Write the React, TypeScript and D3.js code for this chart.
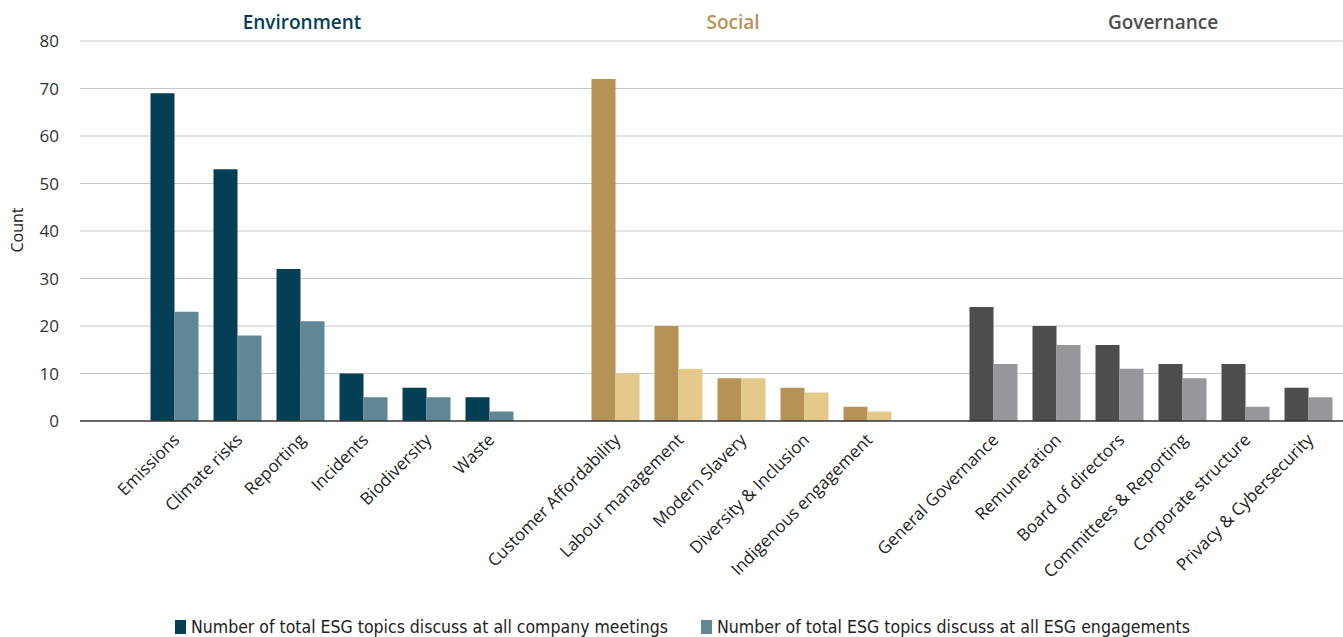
import React, { useEffect, useRef } from 'react';
import * as d3 from 'd3';

// slot names; blank entries are empty gaps between the groups
const categories = [
  '', 'Emissions', 'Climate risks', 'Reporting', 'Incidents', 'Biodiversity', 'Waste',
  ' ', 'Customer Affordability', 'Labour management', 'Modern Slavery', 'Diversity & Inclusion', 'Indigenous engagement',
  '  ', 'General Governance', 'Remuneration', 'Board of directors', 'Committees & Reporting', 'Corporate structure', 'Privacy & Cybersecurity',
];

const envTopics = ['Emissions', 'Climate risks', 'Reporting', 'Incidents', 'Biodiversity', 'Waste'];
const envMeetings = [69, 53, 32, 10, 7, 5];
const envEngagements = [23, 18, 21, 5, 5, 2];

const socTopics = ['Customer Affordability', 'Labour management', 'Modern Slavery', 'Diversity & Inclusion', 'Indigenous engagement'];
const socMeetings = [72, 20, 9, 7, 3];
const socEngagements = [10, 11, 9, 6, 2];

const govTopics = ['General Governance', 'Remuneration', 'Board of directors', 'Committees & Reporting', 'Corporate structure', 'Privacy & Cybersecurity'];
const govMeetings = [24, 20, 16, 12, 12, 7];
const govEngagements = [12, 16, 11, 9, 3, 5];

const yTicks = [0, 10, 20, 30, 40, 50, 60, 70, 80];
const legendLabels = [
  'Number of total ESG topics discuss at all company meetings',
  'Number of total ESG topics discuss at all ESG engagements',
];

const groups = [
  { title: 'Environment', titleX: 302, topics: envTopics, a: envMeetings, b: envEngagements, dark: '#043f55', light: '#5f8796' },
  { title: 'Social', titleX: 733, topics: socTopics, a: socMeetings, b: socEngagements, dark: '#b79257', light: '#e4c98a' },
  { title: 'Governance', titleX: 1163, topics: govTopics, a: govMeetings, b: govEngagements, dark: '#4d4d4d', light: '#97979b' },
];

const W = 1343;
const H = 637;
const font = "'Open Sans', 'Noto Sans', sans-serif";

export default function App() {
  const svgRef = useRef<SVGSVGElement>(null);

  useEffect(() => {
    document.body.style.margin = '0';
    document.body.style.overflow = 'hidden';
    const svg = d3.select(svgRef.current);
    svg.selectAll('*').remove();

    const x = d3.scaleBand().domain(categories).range([80, 1340]).paddingInner(0).paddingOuter(0);
    const y = d3.scaleLinear().domain([0, 80]).range([421, 41]);
    const inner = d3.scaleBand().domain(['a', 'b']).range([0, 48]);
    const pad = (x.bandwidth() - 48) / 2;

    // grid
    svg.append('g')
      .selectAll('line')
      .data(yTicks.filter(t => t > 0))
      .join('line')
      .attr('x1', 80).attr('x2', W)
      .attr('y1', d => y(d)).attr('y2', d => y(d))
      .attr('stroke', '#c8c8c8').attr('stroke-width', 1.2);

    svg.append('g')
      .selectAll('text')
      .data(yTicks)
      .join('text')
      .attr('x', 59).attr('y', d => y(d))
      .attr('dy', '0.36em')
      .attr('text-anchor', 'end')
      .attr('font-family', font).attr('font-size', 17).attr('fill', '#333')
      .text(d => d);

    svg.append('text')
      .attr('transform', 'translate(23,230) rotate(-90)')
      .attr('text-anchor', 'middle')
      .attr('font-family', font).attr('font-size', 16).attr('fill', '#222')
      .text('Count');

    groups.forEach(g => {
      const rows = g.topics.map((t, i) => ({ t, a: g.a[i], b: g.b[i] }));
      const gg = svg.append('g');
      gg.selectAll('rect.a')
        .data(rows)
        .join('rect')
        .attr('x', d => (x(d.t) || 0) + pad + (inner('a') || 0))
        .attr('y', d => y(d.a))
        .attr('width', inner.bandwidth())
        .attr('height', d => y(0) - y(d.a))
        .attr('fill', g.dark);
      gg.selectAll('rect.b')
        .data(rows)
        .join('rect')
        .attr('x', d => (x(d.t) || 0) + pad + (inner('b') || 0))
        .attr('y', d => y(d.b))
        .attr('width', inner.bandwidth())
        .attr('height', d => y(0) - y(d.b))
        .attr('fill', g.light);

      gg.selectAll('text.lbl')
        .data(g.topics)
        .join('text')
        .attr('transform', d => `translate(${(x(d) || 0) + x.bandwidth() / 2 + 6},${441}) rotate(-45)`)
        .attr('text-anchor', 'end')
        .attr('font-family', font).attr('font-size', 17).attr('fill', '#222')
        .text(d => d);

      svg.append('text')
        .attr('x', g.titleX).attr('y', 29)
        .attr('text-anchor', 'middle')
        .attr('font-family', font).attr('font-weight', 600).attr('font-size', 19)
        .attr('fill', g.dark)
        .text(g.title);
    });

    // baseline
    svg.append('line')
      .attr('x1', 80).attr('x2', W)
      .attr('y1', y(0)).attr('y2', y(0))
      .attr('stroke', '#333').attr('stroke-width', 1.5);

    // legend
    const legX = [175, 701];
    const legW = [477, 473];
    const leg = svg.append('g');
    legendLabels.forEach((l, i) => {
      leg.append('rect')
        .attr('x', legX[i]).attr('y', 620).attr('width', 11).attr('height', 14)
        .attr('fill', i === 0 ? groups[0].dark : groups[0].light);
      leg.append('text')
        .attr('x', legX[i] + 16).attr('y', 633)
        .attr('font-family', "'DejaVu Sans Condensed', 'Liberation Sans Narrow', sans-serif")
        .attr('font-size', 17.5).attr('fill', '#222')
        .attr('textLength', legW[i]).attr('lengthAdjust', 'spacingAndGlyphs')
        .text(l);
    });
  }, []);

  return (
    <svg
      ref={svgRef}
      width={W}
      height={H}
      style={{ display: 'block', position: 'absolute', left: 0, top: 0, background: '#fff' }}
    />
  );
}
